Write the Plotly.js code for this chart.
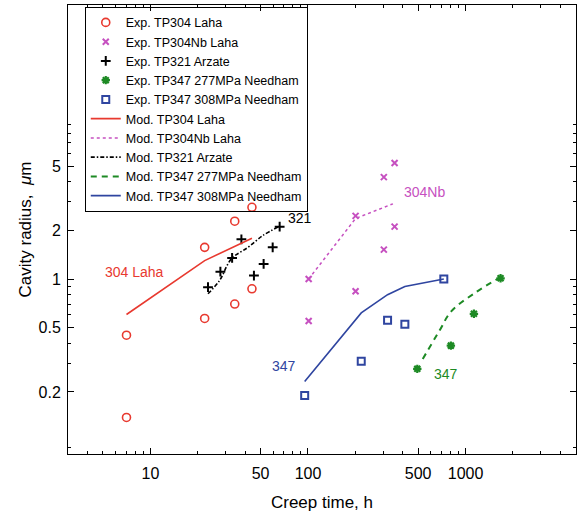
<!DOCTYPE html>
<html>
<head>
<meta charset="utf-8">
<script src="https://cdn.plot.ly/plotly-3.0.1.min.js"></script>
<style>html,body{margin:0;padding:0;background:#fff;}#chart{width:577px;height:516px;}</style>
</head>
<body>
<div id="chart"></div>
<script>
// ---- Experimental data ----
const tp304ExpX = [7.05, 7.05, 22.1, 22.1, 34.3, 34.3, 44.1, 44.1];
const tp304ExpY = [0.449, 0.139, 1.57, 0.57, 2.28, 0.70, 2.78, 0.87];
const tp304NbExpX = [354.6, 303, 200.5, 354.6, 303, 101, 200.5, 101];
const tp304NbExpY = [5.22, 4.27, 2.46, 2.11, 1.52, 1.0, 0.84, 0.55];
const tp321ExpX = [23.2, 27.8, 33.0, 37.8, 45.4, 52.3, 59.7, 66.1];
const tp321ExpY = [0.89, 1.11, 1.35, 1.76, 1.05, 1.24, 1.57, 2.11];
const tp347aExpX = [494, 807, 1130, 1668];
const tp347aExpY = [0.278, 0.387, 0.609, 1.01];
const tp347bExpX = [95.3, 217.8, 320, 412, 728];
const tp347bExpY = [0.19, 0.31, 0.556, 0.525, 1.0];
// ---- Model curves ----
const tp304ModX = [7.05, 22.1, 44.1];
const tp304ModY = [0.603, 1.30, 1.79];
const tp304NbModX = [101, 200.5, 346];
const tp304NbModY = [1.0, 2.37, 2.92];
const tp321ModX = [23.2, 27.5, 32.6, 41.6, 51.8, 65.3];
const tp321ModY = [0.81, 0.98, 1.33, 1.57, 1.86, 2.11];
const tp347aModX = [535, 684, 811, 1167, 1683];
const tp347aModY = [0.32, 0.48, 0.63, 0.83, 1.03];
const tp347bModX = [95.3, 217.8, 320, 412, 728];
const tp347bModY = [0.232, 0.617, 0.80, 0.90, 1.0];
// ---- Ticks ----
const xTickVals = [10, 50, 100, 500, 1000];
const xTickText = ['10', '50', '100', '500', '1000'];
const xMinorVals = [4,5,6,7,8,9,20,30,40,60,70,80,90,200,300,400,600,700,800,900,2000,3000,4000];
const yTickVals = [0.2, 0.5, 1, 2, 5];
const yTickText = ['0.2', '0.5', '1', '2', '5'];
const yMinorVals = [0.09,0.3,0.4,0.6,0.7,0.8,0.9,3,4,6,7,8,9];
// ---- Labels ----
const labelText = ['304 Laha', '321', '304Nb', '347', '347'];
const labelX = [7.9, 88.5, 546, 70.5, 751];
const labelY = [1.1, 2.38, 3.48, 0.289, 0.258];

const RED = '#e8392f', MAG = '#c650c0', BLK = '#000000', GRN = '#1d8a24', BLU = '#2f45a0';
const labelColors = [RED, BLK, MAG, BLU, GRN];

const traces = [
  {x: tp304ExpX, y: tp304ExpY, mode: 'markers', name: 'Exp. TP304 Laha',
   marker: {symbol: 'circle-open', size: 8, color: RED, line: {width: 1.6}}},
  {x: tp304NbExpX, y: tp304NbExpY, mode: 'markers', name: 'Exp. TP304Nb Laha',
   marker: {symbol: 'x-thin', size: 6, color: MAG, line: {width: 2, color: MAG}}},
  {x: tp321ExpX, y: tp321ExpY, mode: 'markers', name: 'Exp. TP321 Arzate',
   marker: {symbol: 'cross-thin', size: 7, color: BLK, line: {width: 2, color: BLK}}},
  {x: tp347aExpX, y: tp347aExpY, mode: 'markers', name: 'Exp. TP347 277MPa Needham',
   marker: {symbol: 'asterisk', size: 7, color: GRN, line: {width: 2.2, color: GRN}}},
  {x: tp347bExpX, y: tp347bExpY, mode: 'markers', name: 'Exp. TP347 308MPa Needham',
   marker: {symbol: 'square-open', size: 7, color: BLU, line: {width: 2}}},
  {x: tp304ModX, y: tp304ModY, mode: 'lines', name: 'Mod. TP304 Laha',
   line: {color: RED, width: 1.6}},
  {x: tp304NbModX, y: tp304NbModY, mode: 'lines', name: 'Mod. TP304Nb Laha',
   line: {color: MAG, width: 1.5, dash: 'dot'}},
  {x: tp321ModX, y: tp321ModY, mode: 'lines', name: 'Mod. TP321 Arzate',
   line: {color: BLK, width: 1.6, dash: '4px,2px,1.5px,2px', shape: 'spline'}},
  {x: tp347aModX, y: tp347aModY, mode: 'lines', name: 'Mod. TP347 277MPa Needham',
   line: {color: GRN, width: 2, dash: '6px,5px', shape: 'spline'}},
  {x: tp347bModX, y: tp347bModY, mode: 'lines', name: 'Mod. TP347 308MPa Needham',
   line: {color: BLU, width: 1.6}}
];

const FONT = 'Arial, "Liberation Sans", sans-serif';

const annotations = labelText.map((t, i) => ({
  x: Math.log10(labelX[i]), y: Math.log10(labelY[i]), xref: 'x', yref: 'y',
  text: t, showarrow: false, font: {family: FONT, size: 14, color: labelColors[i]}
}));

const layout = {
  width: 577, height: 516,
  margin: {l: 68, r: 1, t: 5, b: 62},
  paper_bgcolor: '#fff', plot_bgcolor: '#fff',
  font: {family: FONT, color: '#000'},
  showlegend: true,
  legend: {x: 0.033, y: 0.996, xanchor: 'left', yanchor: 'top',
    bgcolor: 'rgba(255,255,255,0)', bordercolor: '#000', borderwidth: 1,
    font: {family: FONT, size: 12.5, color: '#000'}, itemwidth: 30, tracegroupgap: 0},
  xaxis: {type: 'log', range: [0.477, 3.701], showgrid: false, zeroline: false,
    showline: true, linecolor: '#000', linewidth: 1, mirror: 'allticks',
    ticks: 'inside', ticklen: 6, tickcolor: '#000', tickwidth: 1,
    tickmode: 'array', tickvals: xTickVals, ticktext: xTickText,
    ticklabelstandoff: 5,
    tickfont: {family: FONT, size: 16, color: '#000'},
    minor: {tickmode: 'array', tickvals: xMinorVals, ticks: 'inside', ticklen: 3, tickcolor: '#000', showgrid: false},
    title: {text: 'Creep time, h', font: {family: FONT, size: 17, color: '#000'}, standoff: 14}},
  yaxis: {type: 'log', range: [-1.083, 1.696], showgrid: false, zeroline: false,
    showline: true, linecolor: '#000', linewidth: 1, mirror: 'allticks',
    ticks: 'inside', ticklen: 6, tickcolor: '#000', tickwidth: 1,
    tickmode: 'array', tickvals: yTickVals, ticktext: yTickText,
    ticklabelstandoff: 3,
    tickfont: {family: FONT, size: 16, color: '#000'},
    minor: {tickmode: 'array', tickvals: yMinorVals, ticks: 'inside', ticklen: 3, tickcolor: '#000', showgrid: false},
    title: {text: 'Cavity radius,  <i>μ</i>m', font: {family: FONT, size: 17, color: '#000'}, standoff: 2}},
  annotations: annotations
};

Plotly.newPlot('chart', traces, layout, {staticPlot: true, displayModeBar: false});
</script>
</body>
</html>
